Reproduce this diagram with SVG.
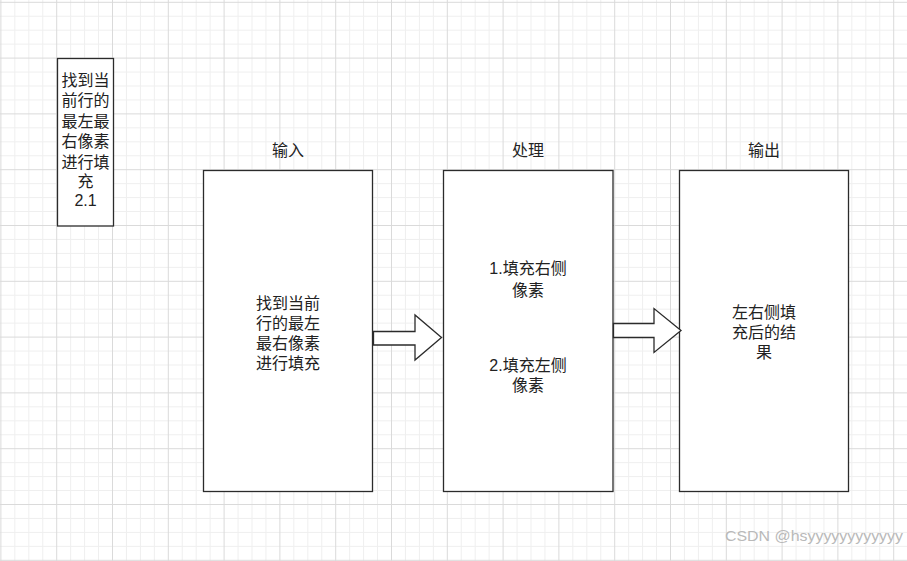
<svg xmlns="http://www.w3.org/2000/svg" width="907" height="561" viewBox="0 0 907 561">
<style>
.minor{stroke:#efefef;stroke-width:1;fill:none}
.major{stroke:#dadada;stroke-width:1;fill:none}
.box{fill:#fff;stroke:#2b2b2b;stroke-width:1.3}
.arrow{fill:#fff;stroke:#2b2b2b;stroke-width:1.3;stroke-linejoin:miter}
text{font-family:"Liberation Sans","Noto Sans CJK SC",sans-serif;font-size:16px;fill:#222;text-anchor:middle}
.wm{font-size:15px;fill:#b9b9b9;text-anchor:start}
</style>
<rect width="907" height="561" fill="#fff"/>
<g id="grid">
<path class="minor" d="M14.85 0V561M28.8 0V561M42.75 0V561M70.65 0V561M84.6 0V561M98.55 0V561M126.45 0V561M140.4 0V561M154.35 0V561M182.25 0V561M196.2 0V561M210.15 0V561M238.05 0V561M252 0V561M265.95 0V561M293.85 0V561M307.8 0V561M321.75 0V561M349.65 0V561M363.6 0V561M377.55 0V561M405.45 0V561M419.4 0V561M433.35 0V561M461.25 0V561M475.2 0V561M489.15 0V561M517.05 0V561M531 0V561M544.95 0V561M572.85 0V561M586.8 0V561M600.75 0V561M628.65 0V561M642.6 0V561M656.55 0V561M684.45 0V561M698.4 0V561M712.35 0V561M740.25 0V561M754.2 0V561M768.15 0V561M796.05 0V561M810 0V561M823.95 0V561M851.85 0V561M865.8 0V561M879.75 0V561
M0 16.25H907M0 30.2H907M0 44.15H907M0 72.05H907M0 86H907M0 99.95H907M0 127.85H907M0 141.8H907M0 155.75H907M0 183.65H907M0 197.6H907M0 211.55H907M0 239.45H907M0 253.4H907M0 267.35H907M0 295.25H907M0 309.2H907M0 323.15H907M0 351.05H907M0 365H907M0 378.95H907M0 406.85H907M0 420.8H907M0 434.75H907M0 462.65H907M0 476.6H907M0 490.55H907M0 518.45H907M0 532.4H907M0 546.35H907"/>
<path class="major" d="M0.9 0V561M56.7 0V561M112.5 0V561M168.3 0V561M224.1 0V561M279.9 0V561M335.7 0V561M391.5 0V561M447.3 0V561M503.1 0V561M558.9 0V561M614.7 0V561M670.5 0V561M726.3 0V561M782.1 0V561M837.9 0V561M893.7 0V561
M0 2.3H907M0 58.1H907M0 113.9H907M0 169.7H907M0 225.5H907M0 281.3H907M0 337.1H907M0 392.9H907M0 448.7H907M0 504.5H907M0 560.3H907"/>
</g>
<g id="note">
<rect class="box" x="57.5" y="58.5" width="56" height="167.5"/>
<text x="85.5" y="86">找到当</text>
<text x="85.5" y="106">前行的</text>
<text x="85.5" y="127">最左最</text>
<text x="85.5" y="147">右像素</text>
<text x="85.5" y="168">进行填</text>
<text x="85.5" y="187">充</text>
<text x="85.5" y="206">2.1</text>
</g>
<g id="input">
<text x="288" y="156">输入</text>
<rect class="box" x="203.5" y="170.5" width="169" height="321"/>
<text x="288" y="309">找到当前</text>
<text x="288" y="329">行的最左</text>
<text x="288" y="349">最右像素</text>
<text x="288" y="369">进行填充</text>
</g>
<g id="process">
<text x="528" y="156">处理</text>
<rect class="box" x="443.5" y="170.5" width="169.5" height="321"/>
<text x="528" y="274">1.填充右侧</text>
<text x="528" y="296">像素</text>
<text x="528" y="371">2.填充左侧</text>
<text x="528" y="391">像素</text>
</g>
<g id="output">
<text x="764" y="156">输出</text>
<rect class="box" x="679.5" y="170.5" width="169" height="321"/>
<text x="764" y="317.5">左右侧填</text>
<text x="764" y="337.5">充后的结</text>
<text x="764" y="357.5">果</text>
</g>
<g id="connectors">
<polygon class="arrow" points="373.5,331.5 415,331.5 415,315 441.5,337.5 415,360 415,345 373.5,345"/>
<polygon class="arrow" points="613.5,323.5 654,323.5 654,308.5 681,330.5 654,352.5 654,337.5 613.5,337.5"/>
</g>
<text class="wm" x="725" y="541" textLength="178" lengthAdjust="spacingAndGlyphs">CSDN @hsyyyyyyyyyyyy</text>
</svg>
